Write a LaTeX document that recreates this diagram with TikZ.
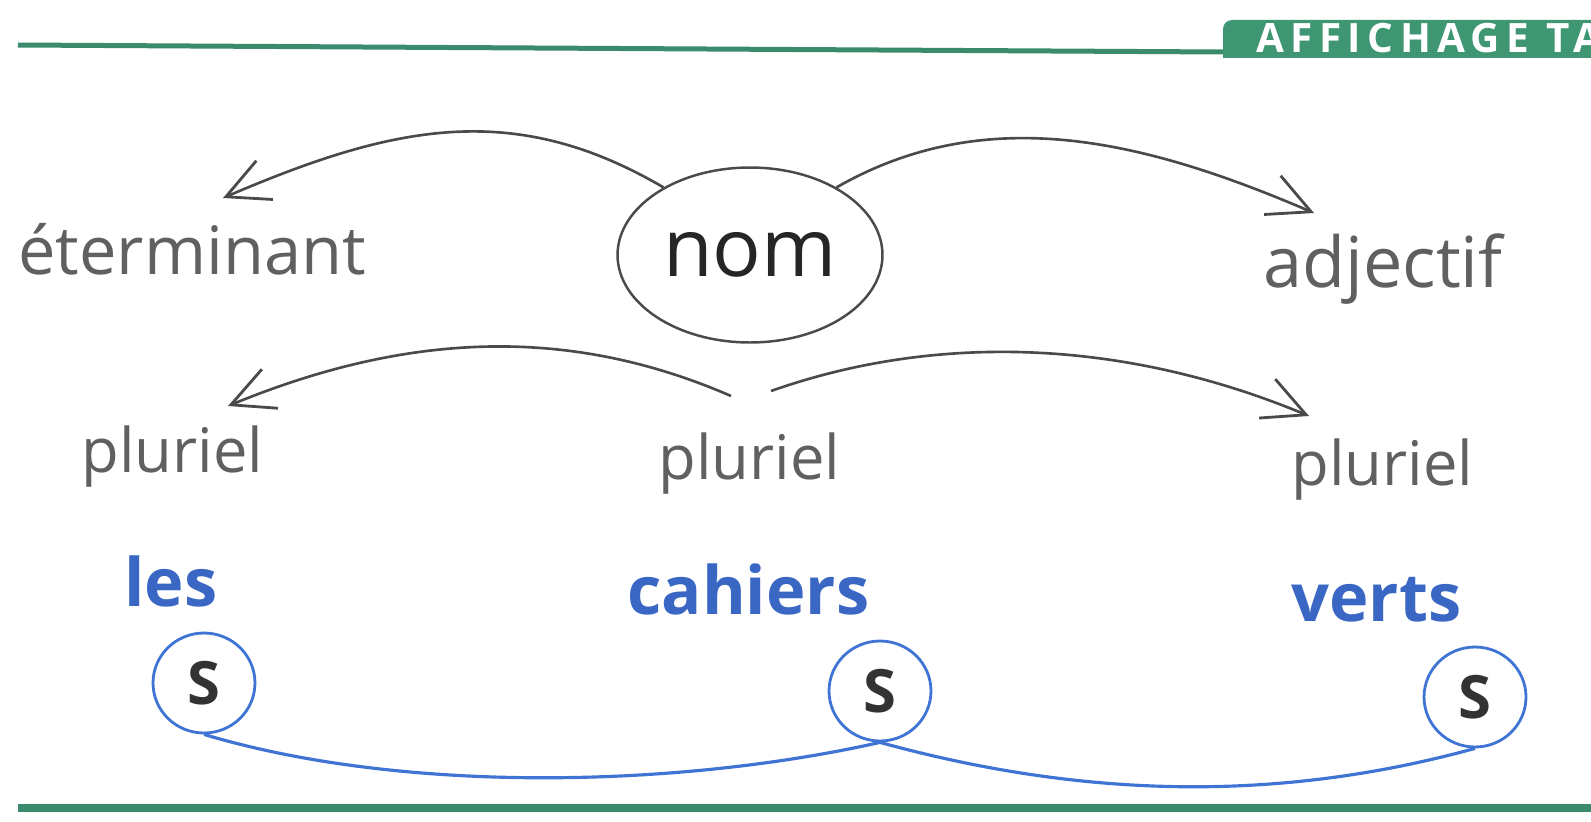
\documentclass[tikz,border=0pt]{standalone}
\usepackage{fontspec}
\setmainfont{Open Sans}
\newfontfamily\tabfont[LetterSpace=16]{Open Sans}
\usetikzlibrary{arrows.meta,shapes.geometric}
\definecolor{penGray}{HTML}{4A4A4A}
\definecolor{txtGray}{HTML}{606060}
\definecolor{inkBlue}{HTML}{3A66C4}
\definecolor{lineBlue}{HTML}{3F74D4}
\definecolor{ruleGreen}{HTML}{3A8A6C}
\definecolor{tabGreen}{HTML}{3F9673}
\tikzset{
  graytxt/.style={text=txtGray,font=\fontsize{38}{42}\selectfont,inner sep=0pt,anchor=base west},
  bluetxt/.style={text=inkBlue,font=\bfseries\fontsize{38}{42}\selectfont,inner sep=0pt,anchor=base west},
  sbubble/.style={draw=lineBlue,line width=1.6pt,ellipse,minimum width=2.04cm,minimum height=2.0cm,inner sep=0pt,font=\bfseries\fontsize{34}{38}\selectfont,text=black!80},
  arr/.style={draw=penGray,line width=1.5pt,-{Straight Barb[length=24pt,width=24pt,line width=1.6pt]}}
}
\begin{document}
\begin{tikzpicture}[x=0.02cm,y=-0.02cm]
\useasboundingbox (0,0) rectangle (1591,821);
\clip (0,0) rectangle (1591,821);
% frame rules and tab
\draw[ruleGreen,line width=0.1cm] (18,45) -- (1223,52);
\fill[tabGreen] (1223,58) [rounded corners=0.18cm] -- (1223,20) [sharp corners] -- (1600,20) -- (1600,58) -- cycle;
\node[anchor=base west,inner sep=0pt,text=white,font=\tabfont\bfseries\fontsize{23}{26}\selectfont] (tab) at (1256,53) {AFFICHAGE TA};
\draw[ruleGreen,line width=0.16cm] (18,808) -- (1600,808);
% words
\node[graytxt] (det) at (18,274) {éterminant};
\node[draw=penGray,line width=1.4pt,ellipse,minimum width=5.3cm,minimum height=3.5cm,inner sep=0pt,text=black!85,font=\fontsize{46}{50}\selectfont] (nom) at (750,255) {nom};
\node[graytxt,font=\fontsize{40}{44}\selectfont] (adj) at (1263,287) {adjectif};
\node[graytxt,font=\fontsize{35}{39}\selectfont] (pl1) at (81,472) {pluriel};
\node[graytxt,font=\fontsize{35}{39}\selectfont] (pl2) at (658,479) {pluriel};
\node[graytxt,font=\fontsize{35}{39}\selectfont] (pl3) at (1291,485) {pluriel};
\node[bluetxt] (les) at (124,606) {les};
\node[bluetxt] (cah) at (627,614) {cahiers};
\node[bluetxt] (ver) at (1291,621) {verts};
% S marks
\node[sbubble] (s1) at (204,683) {S};
\node[sbubble] (s2) at (880,691) {S};
\node[sbubble] (s3) at (1475,697) {S};
% arrows
\draw[arr] (nom.142) .. controls +(-150,-88) and +(170,-73) .. ([shift={(205,-76)}]det.base west);
\draw[arr] (nom.38) .. controls +(150,-86) and +(-170,-73) .. ([shift={(51,-74)}]adj.base west);
\draw[arr] ([shift={(73,-83)}]pl2.base west) .. controls +(-170,-74) and +(170,-70) .. ([shift={(147,-66)}]pl1.base west);
\draw[arr] ([shift={(113,-88)}]pl2.base west) .. controls +(170,-60) and +(-180,-75) .. ([shift={(18,-69)}]pl3.base west);
% agreement line
\draw[lineBlue,line width=1.8pt] (s1.south) .. controls +(200,60) and +(-200,45) .. (s2.south)
  .. controls +(200,55) and +(-200,55) .. (s3.south);
\end{tikzpicture}
\end{document}
